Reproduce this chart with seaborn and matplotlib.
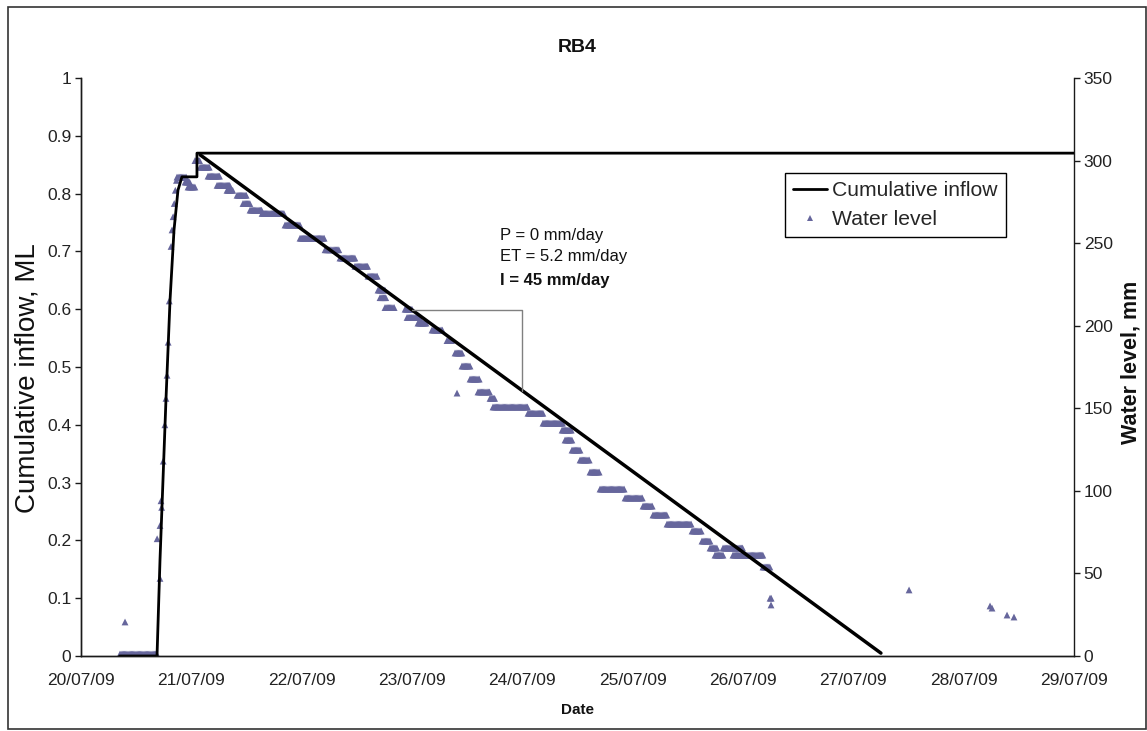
import numpy as np
import pandas as pd
import matplotlib
matplotlib.use("Agg")
import matplotlib.pyplot as plt
import matplotlib.dates as mdates
from matplotlib.lines import Line2D
from matplotlib.patches import Rectangle
import seaborn as sns
from datetime import datetime, timedelta

sns.set_style("white")
plt.rcParams["font.family"] = ["Liberation Sans", "DejaVu Sans"]

START = datetime(2009, 7, 20)

# Cumulative inflow (ML), time in days after 20/07/09 00:00
inflow_day = [0.35, 0.689, 0.716, 0.743, 0.770, 0.807, 0.843, 0.879, 0.915, 1.051, 1.051, 9.0]
inflow_ml = [0.0, 0.0, 0.166, 0.304, 0.443, 0.616, 0.737, 0.806, 0.829, 0.829, 0.870, 0.870]

# Fitted recession line (ML)
trend_day = [1.08, 7.25]
trend_ml = [0.867, 0.005]

# Days spanned by the slope triangle
tri_day = [3.0, 4.0]

# Water level (mm): runs of constant logged level (start day, end day, level)
wl_run_start = [0.353, 0.870, 0.943, 0.970, 1.033, 1.079, 1.151, 1.233, 1.323, 1.414,
                1.468, 1.532, 1.641, 1.849, 1.985, 2.212, 2.347, 2.483, 2.601, 2.692,
                2.710, 2.755, 2.937, 2.955, 3.054, 3.181, 3.317, 3.390, 3.453, 3.526,
                3.598, 3.707, 3.734, 4.051, 4.187, 4.360, 4.387, 4.450, 4.523, 4.613,
                4.704, 4.931, 5.094, 5.184, 5.311, 5.538, 5.628, 5.701, 5.746, 5.819,
                5.909, 6.181, 6.245]
wl_run_end = [0.689, 0.961, 0.988, 1.033, 1.079, 1.169, 1.260, 1.350, 1.378, 1.505,
              1.532, 1.641, 1.849, 1.985, 2.212, 2.347, 2.483, 2.601, 2.692, 2.764,
              2.770, 2.846, 3.009, 3.073, 3.136, 3.281, 3.363, 3.453, 3.526, 3.616,
              3.707, 3.752, 4.051, 4.187, 4.369, 4.450, 4.450, 4.523, 4.613, 4.704,
              4.931, 5.094, 5.184, 5.311, 5.538, 5.628, 5.701, 5.765, 5.819, 6.000,
              6.181, 6.245, 6.263]
wl_run_mm = [1.2, 290.0, 287.0, 284.0, 300.0, 296.0, 290.6, 285.0, 282.0, 279.0,
             274.0, 270.0, 268.0, 261.0, 253.0, 246.0, 241.0, 236.0, 230.0, 221.6,
             217.0, 211.0, 210.0, 205.0, 201.6, 197.4, 191.0, 183.5, 175.6, 167.7,
             159.9, 156.0, 150.8, 147.0, 141.0, 136.8, 130.8, 124.7, 118.7, 111.4,
             101.1, 95.7, 90.8, 85.4, 79.9, 75.7, 69.6, 65.4, 61.1, 65.4,
             61.1, 53.9, 35.0]

# Water level (mm): individual readings (filling phase and scattered late readings)
wl_point_day = [0.399, 0.690, 0.716, 0.716, 0.725, 0.731, 0.745, 0.760, 0.770, 0.780,
                0.790, 0.800, 0.816, 0.825, 0.835, 0.845, 0.855, 0.865, 3.408, 6.254,
                7.505, 8.239, 8.257, 8.393, 8.456]
wl_point_mm = [20.6, 71.0, 47.0, 79.0, 94.0, 90.0, 118.0, 140.0, 156.0, 170.0,
               190.0, 215.0, 248.0, 258.0, 266.0, 274.0, 282.0, 288.0, 159.2, 30.9,
               40.0, 30.3, 29.0, 24.8, 23.6]

LOG_STEP = 1.0 / 96.0  # 15-minute logger interval

# Expand runs into individual logger readings
run_days, run_levels = [], []
for s, e, v in zip(wl_run_start, wl_run_end, wl_run_mm):
    t = np.arange(s, e + 1e-9, LOG_STEP)
    run_days.extend(t)
    run_levels.extend([v] * len(t))

wl = pd.DataFrame({
    "day": list(run_days) + wl_point_day,
    "mm": list(run_levels) + wl_point_mm,
})
wl["time"] = [START + timedelta(days=float(d)) for d in wl["day"]]

inflow = pd.DataFrame({"time": [START + timedelta(days=d) for d in inflow_day],
                       "ml": inflow_ml})
trend = pd.DataFrame({"time": [START + timedelta(days=d) for d in trend_day],
                      "ml": trend_ml})

W, H = 1147, 731
fig = plt.figure(figsize=(W / 100, H / 100), dpi=100)
L, R, B, T = 81, 1074, 656, 78
ax = fig.add_axes([L / W, 1 - B / H, (R - L) / W, (B - T) / H])
ax2 = ax.twinx()

ink = "#1a1a1a"
wl_color = "#66669c"

# water level on the secondary axis, drawn underneath the inflow lines
sns.scatterplot(data=wl, x="time", y="mm", ax=ax2, marker="^", s=24,
                color=wl_color, edgecolor="none", linewidth=0, legend=False)
ax.set_zorder(ax2.get_zorder() + 1)
ax.patch.set_visible(False)

sns.lineplot(data=inflow, x="time", y="ml", ax=ax, color="black", lw=2.0,
             estimator=None, sort=False)
sns.lineplot(data=trend, x="time", y="ml", ax=ax, color="black", lw=2.5,
             estimator=None, sort=False)

# slope triangle under the recession line
tri_ml = np.interp(tri_day, trend_day, trend_ml)
t0 = START + timedelta(days=tri_day[0])
t1 = START + timedelta(days=tri_day[1])
ax.plot([t0, t1, t1], [tri_ml[0], tri_ml[0], tri_ml[1]], color="#808080", lw=1.0)

# axes ranges and ticks
ax.set_xlim(START, START + timedelta(days=9))
ax.set_ylim(0, 1)
ax2.set_ylim(0, 350)
ax.set_yticks(np.arange(0, 1.01, 0.1))
ax.set_yticklabels(["0"] + [f"{v:.1f}" for v in np.arange(0.1, 0.95, 0.1)] + ["1"])
ax2.set_yticks(np.arange(0, 351, 50))
ax.xaxis.set_major_locator(mdates.DayLocator())
ax.xaxis.set_major_formatter(mdates.DateFormatter("%d/%m/%y"))

for a in (ax, ax2):
    for sp in a.spines.values():
        sp.set_color(ink)
        sp.set_linewidth(1.0)
    a.spines["top"].set_visible(False)
    a.tick_params(direction="out", length=4, width=1.0, color=ink,
                  labelsize=12.5, labelcolor="#222222")
ax.spines["right"].set_visible(False)
ax.tick_params(axis="y", pad=3)
ax.tick_params(axis="x", pad=8)
ax2.tick_params(axis="y", pad=3)

ax.set_xlabel("")
ax.set_ylabel("")
ax2.set_xlabel("")
ax2.set_ylabel("")

fig.text(0.5 * (L + R) / W, 1 - 47 / H, "RB4", ha="center", va="center",
         fontsize=14, fontweight="bold", color="#111111")
fig.text(578 / W, 1 - 710 / H, "Date", ha="center", va="center",
         fontsize=11, fontweight="bold", color="#111111")
fig.text(28 / W, 1 - 378 / H, "Cumulative inflow, ML", ha="center", va="center",
         rotation=90, fontsize=20, color="#111111")
fig.text(1131 / W, 1 - 362 / H, "Water level, mm", ha="center", va="center",
         rotation=90, fontsize=15.5, fontweight="bold", color="#111111")

# rates annotation
ax.text((500 - L) / (R - L), (B - 235) / (B - T), "P = 0 mm/day", transform=ax.transAxes,
        fontsize=12, va="center", ha="left", color="#111111")
ax.text((500 - L) / (R - L), (B - 257) / (B - T), "ET = 5.2 mm/day", transform=ax.transAxes,
        fontsize=12, va="center", ha="left", color="#111111")
ax.text((500 - L) / (R - L), (B - 280) / (B - T), "I = 45 mm/day", transform=ax.transAxes,
        fontsize=12, va="center", ha="left", fontweight="bold", color="#111111")

handles = [Line2D([], [], color="black", lw=2.0),
           Line2D([], [], ls="none", marker="^", markersize=4, color=wl_color,
                  markeredgewidth=0)]
leg = ax.legend(handles, ["Cumulative inflow", "Water level"], loc="upper left",
                bbox_to_anchor=((785 - L) / (R - L), (B - 173) / (B - T)),
                fontsize=15.2, frameon=True, fancybox=False, framealpha=1,
                edgecolor="black", borderpad=0.4, labelspacing=0.45,
                handlelength=1.6, handletextpad=0.25, borderaxespad=0)
leg.get_frame().set_linewidth(1.0)

# chart area border
fig.patches.append(Rectangle((8 / W, 1 - 729 / H), (1146 - 8) / W, (729 - 7) / H,
                             transform=fig.transFigure, fill=False,
                             edgecolor="#333333", lw=1.2))

fig.savefig("out.png", dpi=100)
